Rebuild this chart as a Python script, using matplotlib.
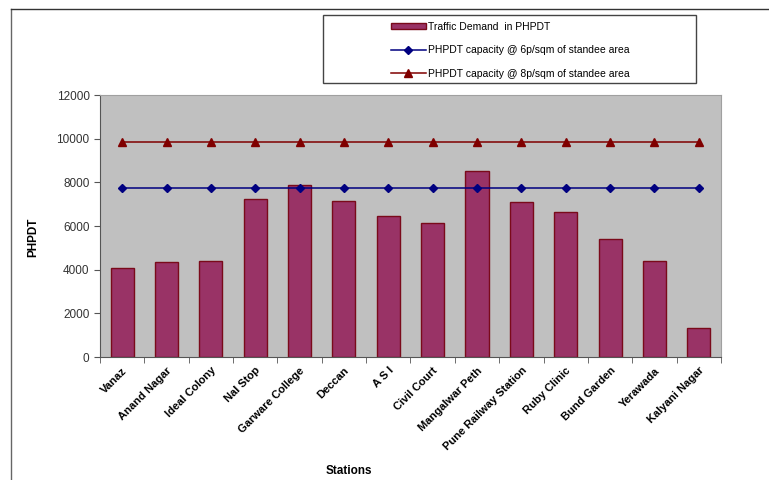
import numpy as np
import matplotlib.pyplot as plt
from matplotlib.lines import Line2D
from matplotlib.patches import Rectangle

plt.rcParams['font.family'] = ['Liberation Sans', 'DejaVu Sans']

stations = ['Vanaz', 'Anand Nagar', 'Ideal Colony', 'Nal Stop', 'Garware College',
            'Deccan', 'A S I', 'Civil Court', 'Mangalwar Peth', 'Pune Railway Station',
            'Ruby Clinic', 'Bund Garden', 'Yerawada', 'Kalyani Nagar']
demand = [4100, 4350, 4400, 7250, 7900, 7150, 6450, 6150, 8500, 7100, 6650, 5400, 4400, 1350]
cap_6p = [7750] * len(stations)
cap_8p = [9850] * len(stations)

fig = plt.figure(figsize=(7.69, 4.8), dpi=100)
ax = fig.add_axes([0.130, 0.256, 0.8076, 0.546])
ax.set_facecolor('#c0c0c0')

x = np.arange(len(stations))
bars = ax.bar(x, demand, width=0.52, color='#993366', edgecolor='#7a0a1a', linewidth=1,
              label='Traffic Demand  in PHPDT', zorder=2)
l6, = ax.plot(x, cap_6p, color='#000080', marker='D', markersize=4.5, lw=1.1,
              label='PHPDT capacity @ 6p/sqm of standee area', zorder=3)
l8, = ax.plot(x, cap_8p, color='#800000', marker='^', markersize=5.5, lw=1.1,
              label='PHPDT capacity @ 8p/sqm of standee area', zorder=3)

ax.set_xlim(-0.5, len(stations) - 0.5)
ax.set_ylim(0, 12000)
ax.set_yticks(np.arange(0, 12001, 2000))
ax.tick_params(axis='y', labelsize=8.5, labelcolor='#333333', length=4, direction='out', color='#555555')

ax.set_xticks(x)
ax.set_xticklabels(stations, rotation=45, ha='right', rotation_mode='anchor',
                   fontsize=8, fontweight='bold')
ax.tick_params(axis='x', length=0, pad=6)
ax.set_xticks(np.arange(-0.5, len(stations)), minor=True)
ax.tick_params(axis='x', which='minor', length=4, direction='out', color='#555555')

for side in ['top', 'right']:
    ax.spines[side].set_color('#a0a0a0')
for side in ['left', 'bottom']:
    ax.spines[side].set_color('#555555')

ax.set_xlabel('Stations', fontsize=8.5, fontweight='bold')
ax.xaxis.set_label_coords(0.40, -0.41)
ax.set_ylabel('PHPDT', fontsize=8.5, fontweight='bold')
ax.yaxis.set_label_coords(-0.097, 0.458)

# legend box
fig.patches.append(Rectangle((0.42, 0.827), 0.485, 0.142, transform=fig.transFigure,
                             fill=False, edgecolor='#444444', lw=1))
fig.legend(handles=[bars, l6, l8], loc='center', bbox_to_anchor=(0.6635, 0.895),
           frameon=False, fontsize=7.5, handlelength=3.3, handleheight=0.6,
           labelspacing=1.3, handletextpad=0.2)

# chart area border
fig.lines.append(Line2D([0.0143, 0.0143], [0, 0.981], transform=fig.transFigure,
                        color='#666666', lw=1))
fig.lines.append(Line2D([0.0143, 1], [0.981, 0.981], transform=fig.transFigure,
                        color='#333333', lw=1))

fig.savefig('out.png', dpi=100)
